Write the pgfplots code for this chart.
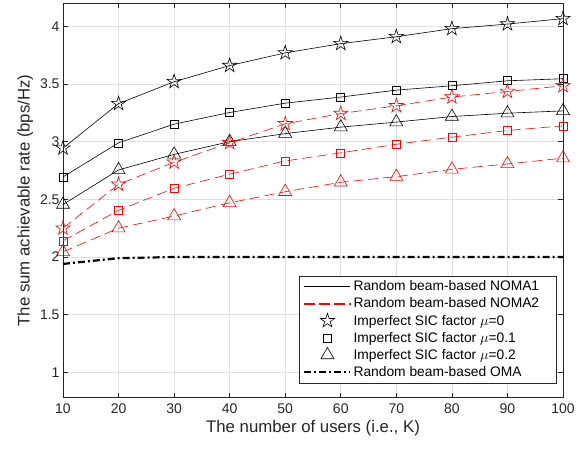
\documentclass[border=0pt]{standalone}
\usepackage{pgfplots}
\pgfplotsset{compat=1.18}
\usepackage{fontspec}
\setmainfont{Liberation Sans}

\definecolor{axgray}{gray}{0.15}
\definecolor{gridgray}{gray}{0.88}
\definecolor{mred}{rgb}{1,0,0}

% five-pointed outline star, like MATLAB's 'p' marker
\pgfdeclareplotmark{pentagram}{%
  \pgfpathmoveto{\pgfpointpolar{90}{\pgfplotmarksize}}%
  \pgfpathlineto{\pgfpointpolar{126}{0.382\pgfplotmarksize}}%
  \pgfpathlineto{\pgfpointpolar{162}{\pgfplotmarksize}}%
  \pgfpathlineto{\pgfpointpolar{198}{0.382\pgfplotmarksize}}%
  \pgfpathlineto{\pgfpointpolar{234}{\pgfplotmarksize}}%
  \pgfpathlineto{\pgfpointpolar{270}{0.382\pgfplotmarksize}}%
  \pgfpathlineto{\pgfpointpolar{306}{\pgfplotmarksize}}%
  \pgfpathlineto{\pgfpointpolar{342}{0.382\pgfplotmarksize}}%
  \pgfpathlineto{\pgfpointpolar{18}{\pgfplotmarksize}}%
  \pgfpathlineto{\pgfpointpolar{54}{0.382\pgfplotmarksize}}%
  \pgfpathclose
  \pgfusepathqstroke}

\begin{document}
\begin{tikzpicture}
\useasboundingbox (-63pt,-51.3pt) rectangle (522pt,397.7pt);
\begin{axis}[
    scale only axis,
    width=500pt, height=394.4pt,
    xmin=10, xmax=100,
    ymin=0.78, ymax=4.2,
    xtick={10,20,...,100},
    ytick={1,1.5,2,2.5,3,3.5,4},
    grid=major,
    grid style={gridgray, line width=0.6pt},
    axis line style={axgray, line width=0.6pt},
    tick style={axgray, line width=0.6pt},
    tick align=inside,
    major tick length=5pt,
    /pgf/number format/assume math mode=true,
    ticklabel style={font=\fontsize{14}{16}\selectfont, text=axgray},
    xticklabel style={yshift=-2pt},
    label style={font=\fontsize{16.8}{19}\selectfont, text=axgray},
    xlabel={The number of users (i.e., K)},
    ylabel={The sum achievable rate (bps/Hz)},
    legend style={
        at={(0.987,0.037)},
        anchor=south east,
        draw=axgray,
        line width=0.6pt,
        font=\fontsize{13.8}{16}\selectfont,
        row sep=1.6pt,
        inner xsep=4pt, inner ysep=3pt,
    },
    legend cell align={left},
    legend image code/.code={%
        \draw[mark repeat=2, mark phase=2, #1]
            plot coordinates {(0pt,0pt) (23pt,0pt) (46pt,0pt)};},
]

% NOMA1, mu = 0
\addplot[black, line width=0.6pt, mark=pentagram, mark size=7.5pt, forget plot]
coordinates {
    (10,2.944) (20,3.33) (30,3.52) (40,3.66) (50,3.77)
    (60,3.85) (70,3.91) (80,3.98) (90,4.02) (100,4.067)
};
% NOMA1, mu = 0.1
\addplot[black, line width=0.6pt, mark=square, mark size=4pt, forget plot]
coordinates {
    (10,2.694) (20,2.99) (30,3.152) (40,3.253) (50,3.334)
    (60,3.387) (70,3.447) (80,3.485) (90,3.528) (100,3.546)
};
% NOMA1, mu = 0.2
\addplot[black, line width=0.6pt, mark=triangle, mark size=7.5pt, forget plot]
coordinates {
    (10,2.455) (20,2.755) (30,2.89) (40,3.0) (50,3.07)
    (60,3.126) (70,3.17) (80,3.218) (90,3.247) (100,3.267)
};

% NOMA2, mu = 0
\addplot[mred, line width=0.6pt, dash pattern=on 10pt off 5pt,
    mark=pentagram, mark size=7.5pt, mark options={solid}, forget plot]
coordinates {
    (10,2.25) (20,2.63) (30,2.822) (40,2.99) (50,3.155)
    (60,3.244) (70,3.311) (80,3.387) (90,3.435) (100,3.485)
};
% NOMA2, mu = 0.1
\addplot[mred, line width=0.6pt, dash pattern=on 10pt off 5pt,
    mark=square, mark size=4pt, mark options={solid}, forget plot]
coordinates {
    (10,2.14) (20,2.405) (30,2.596) (40,2.718) (50,2.833)
    (60,2.903) (70,2.978) (80,3.039) (90,3.097) (100,3.137)
};
% NOMA2, mu = 0.2
\addplot[mred, line width=0.6pt, dash pattern=on 10pt off 5pt,
    mark=triangle, mark size=7.5pt, mark options={solid}, forget plot]
coordinates {
    (10,2.045) (20,2.25) (30,2.355) (40,2.47) (50,2.566)
    (60,2.648) (70,2.697) (80,2.76) (90,2.807) (100,2.857)
};

% OMA
\addplot[black, line width=2.2pt, dash pattern=on 7pt off 3pt on 2pt off 3pt, forget plot]
coordinates {
    (10,1.94) (20,1.99) (30,2.0) (40,2.0) (50,2.0)
    (60,2.0) (70,2.0) (80,2.0) (90,2.0) (100,2.0)
};

% legend entries
\addlegendimage{draw=black, line width=0.6pt}
\addlegendentry{Random beam-based NOMA1}
\addlegendimage{legend image code/.code={%
    \fill[mred] (0pt,-0.5pt) rectangle (10pt,0.5pt);
    \fill[mred] (15pt,-0.5pt) rectangle (25pt,0.5pt);
    \fill[mred] (30pt,-0.5pt) rectangle (40pt,0.5pt);
    \fill[mred] (45pt,-0.5pt) rectangle (46pt,0.5pt);}}
\addlegendentry{Random beam-based NOMA2\makebox[11pt]{}}
\addlegendimage{draw=black, only marks, line width=0.6pt, mark=pentagram, mark size=7.5pt}
\addlegendentry{Imperfect SIC factor $\mu$=0}
\addlegendimage{draw=black, only marks, line width=0.6pt, mark=square, mark size=4pt}
\addlegendentry{Imperfect SIC factor $\mu$=0.1}
\addlegendimage{draw=black, only marks, line width=0.6pt, mark=triangle, mark size=7.5pt}
\addlegendentry{Imperfect SIC factor $\mu$=0.2}
\addlegendimage{draw=black, line width=2.2pt, dash pattern=on 7pt off 3pt on 2pt off 3pt}
\addlegendentry{Random beam-based OMA}
\end{axis}
\end{tikzpicture}
\end{document}
